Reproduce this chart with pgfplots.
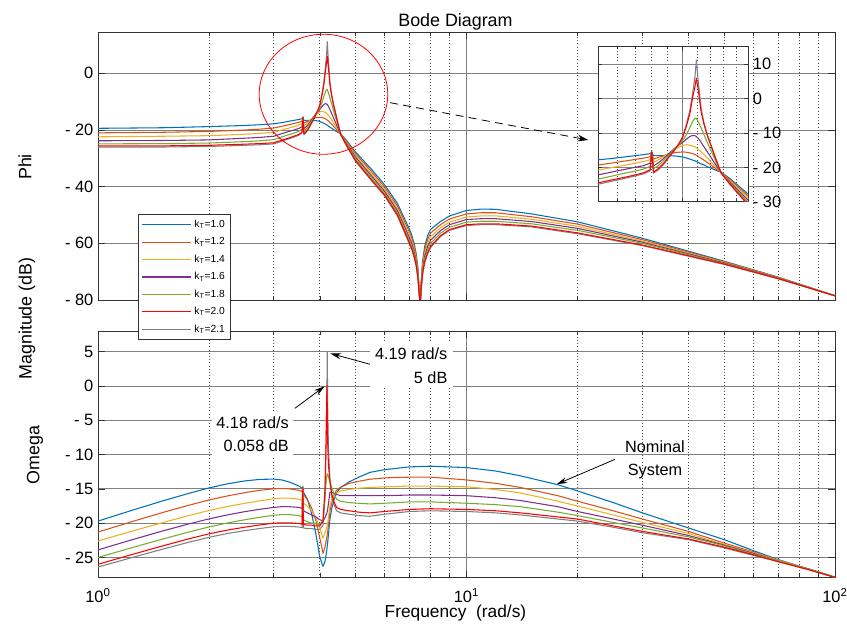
\documentclass[border=0pt]{standalone}
\usepackage{fontspec}
\setmainfont{Liberation Sans}
\usepackage{pgfplots}
\usepackage{pgfplotstable}
\pgfplotsset{compat=1.18}
\usetikzlibrary{arrows.meta}

\definecolor{mB}{rgb}{0,0.447,0.741}
\definecolor{mO}{rgb}{0.85,0.325,0.098}
\definecolor{mY}{rgb}{0.929,0.694,0.125}
\definecolor{mP}{rgb}{0.494,0.184,0.556}
\definecolor{mG}{rgb}{0.466,0.674,0.188}
\definecolor{mR}{rgb}{1,0,0}
\definecolor{mK}{rgb}{0.5,0.5,0.5}

% Phi (upper) panel: x b(1.0) o(1.2) y(1.4) p(1.6) g(1.8) r(2.0) k(2.1)
\pgfplotstableread{
x b o y p g r k
1 -19.4 -21.0 -22.4 -23.8 -24.9 -25.6 -26.0
1.5 -19.2 -20.8 -22.2 -23.7 -24.8 -25.6 -26.0
2 -18.8 -20.5 -22.0 -23.5 -24.6 -25.4 -25.8
2.5 -18.4 -20.0 -21.5 -22.9 -24.1 -25.0 -25.4
2.75 -18.15 -19.7 -21.2 -22.6 -23.8 -24.8 -25.2
3 -17.8 -19.3 -20.8 -22.2 -23.4 -24.5 -24.9
3.15 -17.4 -18.7 -20.0 -21.3 -22.5 -23.6 -24.0
3.3 -16.9 -18.1 -19.3 -20.5 -21.6 -22.8 -23.1
3.4 -16.6 -17.7 -18.8 -20.0 -21.1 -22.2 -22.5
3.5 -16.3 -17.3 -18.3 -19.5 -20.5 -21.6 -21.9
3.58 -16.0 -16.9 -17.8 -18.8 -19.7 -20.7 -21.0
3.6 -15.6 -15.5 -15.5 -15.5 -15.5 -15.5 -15.5
3.62 -16.6 -17.6 -18.6 -19.6 -20.4 -21.4 -21.7
3.68 -16.6 -17.1 -17.8 -18.7 -19.5 -20.4 -20.7
3.75 -16.6 -16.6 -16.9 -17.4 -18.0 -18.8 -19.1
3.82 -16.6 -16.1 -15.8 -15.9 -16.3 -16.8 -17.0
3.9 -16.7 -15.7 -14.7 -14.3 -14.4 -14.6 -14.8
3.95 -16.8 -15.6 -14.1 -13.5 -13.3 -13.1 -13.1
4.0 -17.0 -15.5 -13.6 -12.7 -12.1 -11.2 -11.0
4.05 -17.3 -15.6 -13.4 -11.8 -10.5 -8.0 -7.5
4.1 -17.6 -15.8 -13.6 -11.0 -8.3 -4.2 -3.2
4.14 -17.9 -16.0 -13.8 -10.7 -6.5 0.7 2.0
4.17 -18.1 -16.3 -14.0 -10.8 -5.7 3.5 6.5
4.19 -18.3 -16.5 -14.3 -11.0 -5.8 6.0 11.2
4.21 -18.5 -16.7 -14.6 -11.4 -6.5 3.5 6.5
4.23 -18.7 -17.0 -15.0 -11.9 -7.3 0.5 2.5
4.26 -19.0 -17.4 -15.5 -12.8 -8.6 -4.0 -3.0
4.3 -19.3 -17.9 -16.3 -14.0 -10.5 -7.5 -7.0
4.35 -19.8 -18.6 -17.3 -15.5 -12.8 -10.8 -10.5
4.4 -20.2 -19.3 -18.3 -17.0 -15.0 -13.5 -13.3
4.45 -20.6 -20.0 -19.4 -18.5 -17.0 -16.2 -16.0
4.5 -21.0 -20.7 -20.4 -20.0 -19.3 -18.8 -18.7
4.56 -21.4 -21.5 -21.5 -21.6 -21.6 -21.7 -21.7
4.7 -23.3 -23.6 -24.0 -24.3 -24.6 -24.9 -25.0
5 -27.8 -28.4 -29.0 -29.6 -30.2 -30.8 -31.1
5.5 -33.6 -34.4 -35.2 -35.9 -36.6 -37.3 -37.6
6 -39.4 -40.2 -41.0 -41.7 -42.4 -43.0 -43.3
6.5 -46.0 -46.9 -47.8 -48.6 -49.4 -50.1 -50.4
7 -55.0 -56.0 -57.0 -58.0 -58.9 -59.8 -60.2
7.1 -57.0 -58.0 -59.0 -60.0 -60.9 -61.8 -62.2
7.2 -59.7 -60.7 -61.6 -62.6 -63.4 -64.3 -64.6
7.3 -63.5 -64.4 -65.2 -66.1 -66.8 -67.6 -67.9
7.38 -68.6 -69.3 -70.0 -70.7 -71.3 -72.0 -72.2
7.43 -74.6 -75.1 -75.5 -76.0 -76.4 -76.8 -76.9
7.47 -80 -80 -80 -80 -80 -80 -80
7.5 -80 -80 -80 -80 -80 -80 -80
7.53 -74.1 -74.6 -75.1 -75.6 -76.0 -76.5 -76.7
7.6 -66.5 -67.4 -68.3 -69.2 -69.9 -70.7 -71.0
7.7 -61.2 -62.4 -63.5 -64.6 -65.6 -66.6 -66.9
7.85 -57.2 -58.5 -59.8 -61.0 -62.1 -63.2 -63.6
8 -55.0 -56.3 -57.6 -58.8 -59.9 -61.0 -61.4
8.5 -52.3 -53.4 -54.5 -55.5 -56.4 -57.3 -57.6
9 -50.3 -51.4 -52.5 -53.4 -54.3 -55.1 -55.4
10 -48.4 -49.6 -50.7 -51.6 -52.5 -53.4 -53.7
11 -47.9 -49.2 -50.3 -51.3 -52.2 -53.1 -53.4
12 -48.0 -49.2 -50.3 -51.3 -52.2 -53.1 -53.4
15 -49.6 -50.6 -51.5 -52.3 -53.1 -53.9 -54.2
20 -52.4 -53.2 -54.0 -54.7 -55.4 -56.3 -56.6
30 -58.2 -58.7 -59.2 -59.6 -60.0 -60.6 -60.8
50 -66.3 -66.5 -66.7 -66.9 -67.1 -67.3 -67.4
70 -71.9 -72.0 -72.1 -72.2 -72.3 -72.4 -72.5
100 -78.5 -78.5 -78.5 -78.5 -78.5 -78.5 -78.5
}\phidata

% Omega (lower) panel
\pgfplotstableread{
x b o y p g r k
1 -19.7 -21.3 -22.6 -23.9 -25.0 -26.0 -26.4
1.25 -18.05 -19.7 -21.1 -22.35 -23.5 -24.5 -24.95
1.5 -16.75 -18.44 -19.91 -21.13 -22.31 -23.31 -23.78
1.75 -15.71 -17.44 -18.94 -20.16 -21.34 -22.34 -22.83
2 -14.87 -16.63 -18.16 -19.38 -20.56 -21.56 -22.07
2.25 -14.26 -16.02 -17.57 -18.79 -19.97 -21.0 -21.5
2.5 -13.85 -15.56 -17.11 -18.33 -19.51 -20.59 -21.1
2.75 -13.62 -15.21 -16.74 -17.98 -19.14 -20.26 -20.78
3 -13.58 -15.0 -16.45 -17.71 -18.85 -20.01 -20.53
3.15 -13.7 -14.95 -16.35 -17.6 -18.75 -19.95 -20.47
3.3 -14.0 -15.0 -16.35 -17.6 -18.75 -19.95 -20.47
3.5 -14.55 -15.2 -16.5 -17.7 -18.9 -20.05 -20.55
3.58 -14.9 -15.4 -16.7 -17.85 -19.05 -20.15 -20.65
3.595 -14.7 -14.6 -14.7 -14.8 -14.9 -15.0 -15.1
3.61 -15.5 -15.8 -17.1 -18.2 -19.5 -20.2 -20.7
3.7 -16.5 -16.6 -17.5 -18.5 -19.8 -20.3 -20.8
3.8 -18.6 -17.8 -18.2 -18.8 -20.0 -20.3 -20.8
3.9 -21.5 -19.6 -19.2 -19.1 -20.1 -20.4 -20.9
4.0 -25.0 -22.2 -20.8 -19.5 -20.2 -20.4 -20.9
4.08 -26.3 -24.4 -22.2 -19.7 -19.5 -19.7 -20.3
4.13 -25.6 -23.5 -21.4 -19.2 -16.5 -15.0 -16.0
4.16 -24.6 -22.6 -20.9 -18.8 -14.0 -8.0 -8.0
4.18 -23.8 -22.0 -20.5 -18.5 -13.0 0.06 -1.0
4.19 -23.3 -21.7 -20.3 -18.3 -12.8 -3.0 5.0
4.2 -22.8 -21.3 -20.0 -18.0 -12.9 -8.0 -3.0
4.22 -21.7 -20.3 -19.2 -17.2 -13.2 -11.5 -9.0
4.26 -19.4 -18.3 -17.5 -15.5 -14.0 -14.0 -13.5
4.31 -17.8 -17.0 -16.5 -15.5 -14.8 -15.8 -16.3
4.37 -16.6 -15.9 -15.9 -15.7 -15.7 -16.9 -17.3
4.44 -15.6 -15.2 -15.6 -15.8 -16.5 -17.7 -18.2
4.55 -14.8 -14.8 -15.3 -16.0 -16.8 -18.0 -18.5
4.8 -14.0 -14.2 -15.1 -16.0 -17.0 -18.2 -18.7
5.1 -13.3 -13.9 -14.9 -16.0 -17.1 -18.4 -18.9
5.47 -12.6 -13.6 -14.8 -16.0 -17.2 -18.5 -19.0
6 -12.2 -13.4 -14.7 -16.0 -17.1 -18.3 -18.7
7 -11.8 -13.3 -14.6 -15.9 -16.9 -18.0 -18.3
8 -11.7 -13.3 -14.6 -15.9 -16.9 -17.9 -18.2
10 -11.9 -13.7 -14.7 -16.0 -17.1 -18.0 -18.3
12 -12.4 -14.2 -15.1 -16.3 -17.3 -18.2 -18.5
14 -13.1 -14.8 -15.6 -16.7 -17.6 -18.5 -18.8
17.7 -14.4 -16.0 -16.8 -17.6 -18.4 -19.1 -19.4
20 -15.3 -16.8 -17.5 -18.3 -18.9 -19.4 -19.7
25 -17.0 -18.2 -18.8 -19.4 -19.9 -20.4 -20.6
30 -18.5 -19.4 -19.9 -20.3 -20.7 -21.2 -21.4
40 -20.7 -21.2 -21.5 -21.8 -22.0 -22.3 -22.4
50 -22.4 -22.9 -23.1 -23.2 -23.3 -23.5 -23.6
60 -24.0 -24.2 -24.3 -24.4 -24.5 -24.6 -24.7
70 -25.3 -25.4 -25.4 -25.5 -25.5 -25.6 -25.6
85 -26.7 -26.7 -26.7 -26.7 -26.7 -26.8 -26.8
100 -27.9 -27.9 -27.9 -27.9 -27.9 -27.9 -27.9
}\omdata

\pgfplotsset{
  bodebase/.style={
    scale only axis,
    axis line style={black!80, line width=0.6pt},
    tick style={black!80, line width=0.5pt},
    tick align=inside, major tick length=5pt, minor tick length=3pt,
    xmajorgrids, xminorgrids, ymajorgrids,
    major grid style={black!50, line width=0.6pt},
    minor grid style={black!70, dotted, line width=0.55pt},
    tick label style={font=\fontsize{12.3}{14}\selectfont},
  },
  mainx/.style={
    xmin=1, xmax=100,
    xtick={1,10,100},
    minor xtick={2,3,4,5,6,7,8,9,20,30,40,50,60,70,80,90},
  },
  every axis plot/.append style={line width=0.8pt, line join=round},
}

\begin{document}
\begin{tikzpicture}
\path[use as bounding box] (0,0) rectangle (635.25pt,-472.5pt);

% ---------- lower panel (Omega) ----------
\begin{semilogxaxis}[bodebase, mainx,
  at={(73.5pt,-433pt)}, anchor=south west,
  width=552.75pt, height=184.7pt,
  ymin=-27.9, ymax=8,
  ytick={-25,-20,-15,-10,-5,0,5},
  yticklabels={{- 25},{- 20},{- 15},{- 10},{- 5},0,5},
  xticklabels={10\textsuperscript{0},10\textsuperscript{1},10\textsuperscript{2}},
  xticklabel style={yshift=-5pt},
]
\addplot[mK, forget plot] table[x=x,y=k]{\omdata};
\addplot[mB] table[x=x,y=b]{\omdata};
\addplot[mO] table[x=x,y=o]{\omdata};
\addplot[mY] table[x=x,y=y]{\omdata};
\addplot[mP] table[x=x,y=p]{\omdata};
\addplot[mG] table[x=x,y=g]{\omdata};
\addplot[mR] table[x=x,y=r]{\omdata};
\end{semilogxaxis}

% annotation boxes of the lower panel
\node[fill=white, align=right, anchor=east, inner xsep=4pt, inner ysep=3pt,
      font=\fontsize{12.2}{18}\selectfont] at (339.75pt,-274pt) {4.19 rad/s\\5 dB};
\node[fill=white, align=right, anchor=east, inner xsep=3pt, inner ysep=3pt,
      font=\fontsize{12.2}{17.25}\selectfont] at (219.75pt,-325.6pt) {4.18 rad/s\\0.058 dB};
\node[align=center, font=\fontsize{12.2}{17.5}\selectfont] at (491.25pt,-345pt) {Nominal\\System};
\draw[black, line width=0.6pt, -{Stealth[length=8pt,width=4.5pt]}] (277.5pt,-273.2pt) -- (247.8pt,-265.1pt);
\draw[black, line width=0.6pt, -{Stealth[length=8pt,width=4.5pt]}] (221.25pt,-306.2pt) -- (243.5pt,-289.7pt);
\draw[black, line width=0.6pt, -{Stealth[length=8pt,width=4.5pt]}] (461.25pt,-344.5pt) -- (417.5pt,-363.2pt);

% ---------- upper panel (Phi) ----------
\begin{semilogxaxis}[bodebase, mainx,
  at={(73.5pt,-225pt)}, anchor=south west,
  width=552.75pt, height=201pt,
  ymin=-80, ymax=14.6,
  ytick={-80,-60,-40,-20,0},
  yticklabels={{- 80},{- 60},{- 40},{- 20},0},
  xticklabels={},
  legend cell align=left,
  legend style={at={(0.0547,0.3198)}, anchor=north west,
    font=\fontsize{7.7}{9}\selectfont, draw=black!80, fill=white,
    line width=0.5pt, inner xsep=2pt, inner ysep=2pt, row sep=2pt},
  legend image code/.code={\draw[#1] (0pt,0pt) -- (37pt,0pt);},
]
\addplot[mK, forget plot] table[x=x,y=k]{\phidata};
\addplot[mB] table[x=x,y=b]{\phidata}; \addlegendentry{k\textsubscript{T}=1.0}
\addplot[mO] table[x=x,y=o]{\phidata}; \addlegendentry{k\textsubscript{T}=1.2}
\addplot[mY] table[x=x,y=y]{\phidata}; \addlegendentry{k\textsubscript{T}=1.4}
\addplot[mP] table[x=x,y=p]{\phidata}; \addlegendentry{k\textsubscript{T}=1.6}
\addplot[mG] table[x=x,y=g]{\phidata}; \addlegendentry{k\textsubscript{T}=1.8}
\addplot[mR] table[x=x,y=r]{\phidata}; \addlegendentry{k\textsubscript{T}=2.0}
\addlegendimage{mK, line width=0.8pt}\addlegendentry{k\textsubscript{T}=2.1}
\end{semilogxaxis}

% ---------- inset (zoom of the resonance) ----------
\begin{semilogxaxis}[bodebase,
  at={(448.7pt,-151.3pt)}, anchor=south west,
  width=112.5pt, height=116.25pt,
  xmin=3, xmax=5, ymin=-30, ymax=15.1,
  axis background/.style={fill=white},
  xtick={4}, xticklabels={},
  minor xtick={3.2,3.4,3.6,3.8,4.2,4.4,4.6,4.8},
  ytick={-30,-20,-10,0,10},
  yticklabels={{- 30},{- 20},{- 10},0,10},
  yticklabel pos=right,
  major tick length=3pt, minor tick length=2pt,
]
\addplot[mK] table[x=x,y=k]{\phidata};
\addplot[mB] table[x=x,y=b]{\phidata};
\addplot[mO] table[x=x,y=o]{\phidata};
\addplot[mY] table[x=x,y=y]{\phidata};
\addplot[mP] table[x=x,y=p]{\phidata};
\addplot[mG] table[x=x,y=g]{\phidata};
\addplot[mR] table[x=x,y=r]{\phidata};
\end{semilogxaxis}

% circle and dashed arrow
\draw[red, line width=0.6pt] (242.6pt,-70.7pt) ellipse [x radius=48.2pt, y radius=45pt];
\draw[black, line width=0.6pt, dash pattern=on 6pt off 4pt, -{Stealth[length=8pt,width=5pt]}] (292.5pt,-77pt) -- (441.2pt,-105pt);

% titles and labels
\node[font=\fontsize{13.4}{16}\selectfont] at (341.6pt,-16.3pt) {Bode Diagram};
\node[font=\fontsize{13}{16}\selectfont] at (341.6pt,-459.8pt) {Frequency~~(rad/s)};
\node[rotate=90, font=\fontsize{13.4}{16}\selectfont] at (18.75pt,-125.25pt) {Phi};
\node[rotate=90, font=\fontsize{13.4}{16}\selectfont] at (20.25pt,-238.9pt) {Magnitude (dB)};
\node[rotate=90, font=\fontsize{13.4}{16}\selectfont] at (26.25pt,-341.25pt) {Omega};
\end{tikzpicture}
\end{document}
